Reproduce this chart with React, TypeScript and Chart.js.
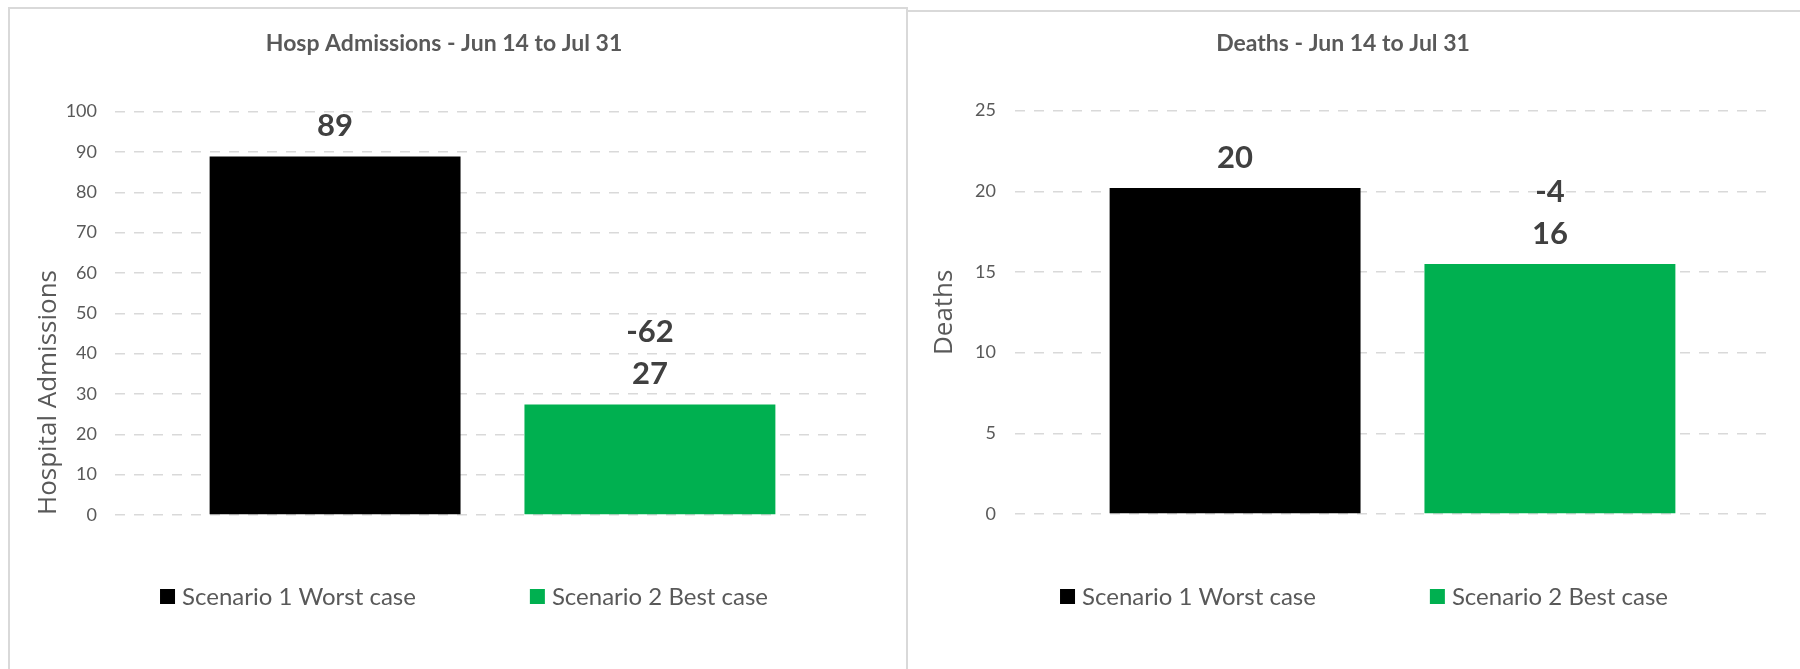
import React, { useEffect, useRef } from "react";
import { Chart, registerables } from "chart.js";

Chart.register(...registerables);

// ---- data ----
const categories = ["Jun 14 to Jul 31"];
const seriesNames = ["Scenario 1 Worst case", "Scenario 2 Best case"];
const seriesColors = ["#000000", "#00b050"];

const admissionsWorst = [88.9];
const admissionsBest = [27.4];
const deathsWorst = [20.2];
const deathsBest = [15.5];

const admissionsTitle = "Hosp Admissions - Jun 14 to Jul 31";
const deathsTitle = "Deaths - Jun 14 to Jul 31";
const admissionsAxisTitle = "Hospital Admissions";
const deathsAxisTitle = "Deaths";
const admissionsTicks = { min: 0, max: 100, step: 10 };
const deathsTicks = { min: 0, max: 25, step: 5 };

const GREY = "#595959";

const labelsPlugin = {
  id: "barLabels",
  afterDatasetsDraw(chart: any) {
    const ctx = chart.ctx;
    const ds = chart.data.datasets;
    ctx.save();
    ctx.font = "bold 31px Lato";
    ctx.fillStyle = "#404040";
    ctx.textAlign = "center";
    ctx.textBaseline = "middle";
    const worstMeta = chart.getDatasetMeta(0);
    const bestMeta = chart.getDatasetMeta(1);
    worstMeta.data.forEach((el: any, i: number) => {
      const v = Math.round(ds[0].data[i]);
      ctx.fillText(String(v), el.x, el.y - 30);
    });
    bestMeta.data.forEach((el: any, i: number) => {
      const v = Math.round(ds[1].data[i]);
      const diff = v - Math.round(ds[0].data[i]);
      ctx.fillText(String(v), el.x, el.y - 30);
      ctx.fillText(String(diff), el.x, el.y - 72);
    });
    ctx.restore();
  },
};

const legendPlugin = {
  id: "bottomLegend",
  afterDraw(chart: any, _args: any, opts: any) {
    const ctx = chart.ctx;
    const ds = chart.data.datasets;
    ctx.save();
    ctx.font = `${opts.fontSize}px Lato`;
    ctx.textBaseline = "middle";
    ctx.textAlign = "left";
    const box = opts.box;
    const widths = ds.map((d: any) => box + opts.textGap + ctx.measureText(d.label).width);
    const total = widths.reduce((a: number, b: number) => a + b, 0) + opts.itemGap * (ds.length - 1);
    let x = opts.cx - total / 2;
    ds.forEach((d: any, i: number) => {
      ctx.fillStyle = d.backgroundColor;
      ctx.fillRect(x, opts.cy - box / 2, box, box);
      ctx.fillStyle = GREY;
      ctx.fillText(d.label, x + box + opts.textGap, opts.cy + 1);
      x += widths[i] + opts.itemGap;
    });
    ctx.restore();
  },
};

function makeConfig(p: any) {
  return {
    type: "bar",
    data: {
      labels: categories,
      datasets: [
        { label: seriesNames[0], data: p.worst, backgroundColor: seriesColors[0], borderWidth: 0 },
        { label: seriesNames[1], data: p.best, backgroundColor: seriesColors[1], borderWidth: 0 },
      ],
    },
    options: {
      responsive: false,
      animation: false,
      devicePixelRatio: 1,
      categoryPercentage: 0.834,
      barPercentage: 0.797,
      layout: { padding: { left: 8, right: p.padRight, top: 0, bottom: p.padBottom } },
      plugins: {
        legend: { display: false },
        tooltip: { enabled: false },
        title: {
          display: true,
          text: p.title,
          color: GREY,
          font: { family: "Lato", size: 23, weight: "bold", lineHeight: 1.2 },
          padding: { top: p.titleTop, bottom: p.titleBottom },
        },
        bottomLegend: { cx: p.legendCx, cy: p.legendCy, box: 15, textGap: 7, itemGap: 114, fontSize: 24 },
      },
      scales: {
        x: { display: false },
        y: {
          min: p.ticks.min,
          max: p.ticks.max,
          afterFit: (scale: any) => {
            scale.width = p.axisWidth;
          },
          ticks: {
            stepSize: p.ticks.step,
            padding: p.tickPad,
            color: GREY,
            font: { family: "Lato", size: 18 },
          },
          grid: { color: "#d9d9d9", lineWidth: 1.5, drawTicks: false },
          border: { display: false, dash: [10, 9] },
          title: {
            display: true,
            text: p.axisTitle,
            align: p.axisAlign,
            color: GREY,
            font: { family: "Open Sans", size: 26, lineHeight: 1.2 },
            padding: { top: p.axisTitleTop, bottom: 0 },
          },
        },
      },
    },
    plugins: [labelsPlugin, legendPlugin],
  };
}

function ChartCanvas(props: { cfg: any; left: number; top: number; width: number; height: number }) {
  const ref = useRef<HTMLCanvasElement | null>(null);
  useEffect(() => {
    if (!ref.current) return;
    const chart = new Chart(ref.current, props.cfg);
    let alive = true;
    Promise.all([
      document.fonts.load("bold 23px Lato"),
      document.fonts.load("18px Lato"),
      document.fonts.load("bold 31px Lato"),
      document.fonts.load("26px 'Open Sans'"),
    ]).then(() => {
      if (alive) chart.update();
    });
    return () => {
      alive = false;
      chart.destroy();
    };
  }, []);
  return (
    <canvas
      ref={ref}
      width={props.width}
      height={props.height}
      style={{ position: "absolute", left: props.left, top: props.top, width: props.width, height: props.height }}
    />
  );
}

const leftCfg = makeConfig({
  worst: admissionsWorst,
  best: admissionsBest,
  title: admissionsTitle,
  axisTitle: admissionsAxisTitle,
  axisAlign: "start",
  ticks: admissionsTicks,
  padRight: 36,
  padBottom: 154,
  titleTop: 21,
  titleBottom: 54,
  axisWidth: 97,
  tickPad: 18,
  axisTitleTop: 15,
  legendCx: 454,
  legendCy: 587.5,
});

const rightCfg = makeConfig({
  worst: deathsWorst,
  best: deathsBest,
  title: deathsTitle,
  axisTitle: deathsAxisTitle,
  axisAlign: "center",
  ticks: deathsTicks,
  padRight: 30,
  padBottom: 155,
  titleTop: 18,
  titleBottom: 53,
  axisWidth: 99,
  tickPad: 19,
  axisTitleTop: 13,
  legendCx: 456,
  legendCy: 584.5,
});

export default function App() {
  return (
    <div style={{ position: "absolute", left: 0, top: 0, width: 1800, height: 669, overflow: "hidden", background: "#ffffff" }}>
      <div
        style={{
          position: "absolute",
          left: 8,
          top: 7,
          width: 896,
          height: 700,
          borderTop: "2px solid #d9d9d9",
          borderLeft: "2px solid #d9d9d9",
          borderRight: "2px solid #d9d9d9",
        }}
      />
      <div style={{ position: "absolute", left: 908, top: 10, width: 900, height: 700, borderTop: "2px solid #d9d9d9" }} />
      <ChartCanvas cfg={leftCfg} left={10} top={9} width={896} height={660} />
      <ChartCanvas cfg={rightCfg} left={908} top={12} width={892} height={657} />
    </div>
  );
}
